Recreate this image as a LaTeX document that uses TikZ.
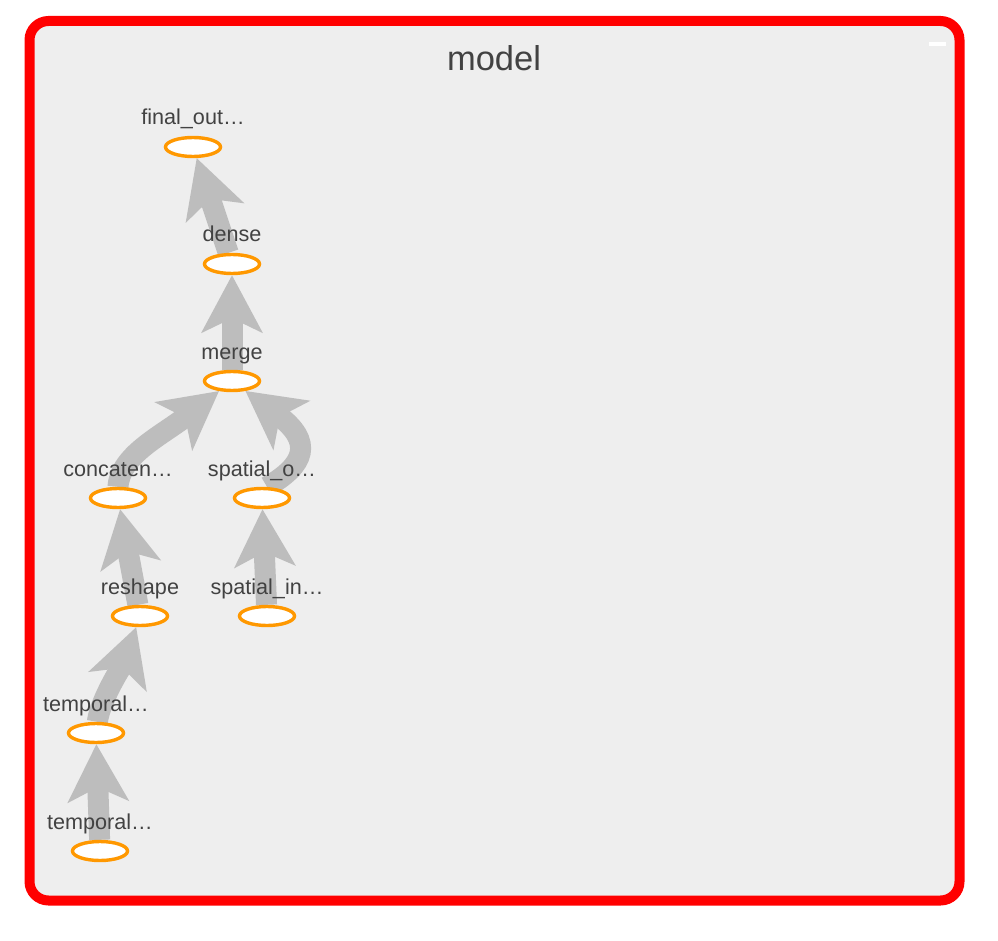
\documentclass[tikz,border=0pt]{standalone}
\usepackage{fontspec}
\setmainfont{Liberation Sans}
\usetikzlibrary{shapes.geometric,arrows.meta}
\definecolor{panelgray}{HTML}{EEEEEE}
\definecolor{edgegray}{HTML}{BDBDBD}
\definecolor{opnode}{HTML}{FF9800}
\definecolor{labelgray}{HTML}{424242}
\pgfdeclarelayer{back}
\pgfdeclarelayer{edges}
\pgfsetlayers{back,edges,main}
\tikzset{
    op/.style={ellipse,draw=opnode,fill=white,line width=3.4pt,minimum width=55pt,minimum height=19pt,inner sep=0pt},
    lbl/.style={anchor=base,text=labelgray,font=\fontsize{21.6}{25}\selectfont,inner sep=0pt},
    flow/.style={draw=edgegray,line width=21pt,-{Stealth[length=57pt,width=60pt,inset=14pt]}}
}
\begin{document}
\begin{tikzpicture}[x=1pt,y=-1pt]
    \useasboundingbox (0,0) rectangle (998,941);
    \begin{pgfonlayer}{back}
    \fill[white] (0,0) rectangle (998,941);
    \draw[red,line width=10pt,rounded corners=19pt,fill=panelgray] (29.5,21) rectangle (959.5,900.5);
    \fill[white] (929,42) rectangle (946,46);
    \end{pgfonlayer}
    \node[anchor=base,text=labelgray,font=\fontsize{34.5}{40}\selectfont,inner sep=0pt] (title) at (494,71) {model};
    % ops
    \node[op] (finalout) at (193,147) {};
    \node[op] (dense) at (232,264) {};
    \node[op] (merge) at (232,381) {};
    \node[op] (concat) at (118,498) {};
    \node[op] (spatialout) at (262,498) {};
    \node[op] (reshape) at (140,616) {};
    \node[op] (spatialin) at (267,616) {};
    \node[op] (temporalb) at (96,733) {};
    \node[op] (temporala) at (100,851) {};
    % names
    \node[lbl] (finalout-l) at ([yshift=22pt]finalout.center) {final\_out…};
    \node[lbl] (dense-l) at ([yshift=22pt]dense.center) {dense};
    \node[lbl] (merge-l) at ([yshift=22pt]merge.center) {merge};
    \node[lbl] (concat-l) at ([yshift=22pt]concat.center) {concaten…};
    \node[lbl] (spatialout-l) at ([yshift=22pt]spatialout.center) {spatial\_o…};
    \node[lbl] (reshape-l) at ([yshift=22pt]reshape.center) {reshape};
    \node[lbl] (spatialin-l) at ([yshift=22pt]spatialin.center) {spatial\_in…};
    \node[lbl] (temporalb-l) at ([yshift=22pt]temporalb.center) {temporal…};
    \node[lbl] (temporala-l) at ([yshift=22pt]temporala.center) {temporal…};
    % edges
    \begin{pgfonlayer}{edges}
    \draw[flow] (temporala) -- (temporalb);
    \draw[flow] (temporalb) .. controls (100,700) and (125,660) .. (reshape);
    \draw[flow] (reshape) -- (concat);
    \draw[flow] (spatialin) -- (spatialout);
    \draw[flow] (concat.north) .. controls (120,455) and (161,436) .. (merge);
    \draw[flow] ([xshift=5pt]spatialout.north) .. controls (305,465) and (314,442) .. (merge);
    \draw[flow] (merge) -- (dense);
    \draw[flow] (dense) -- (finalout);
    \end{pgfonlayer}
\end{tikzpicture}
\end{document}
